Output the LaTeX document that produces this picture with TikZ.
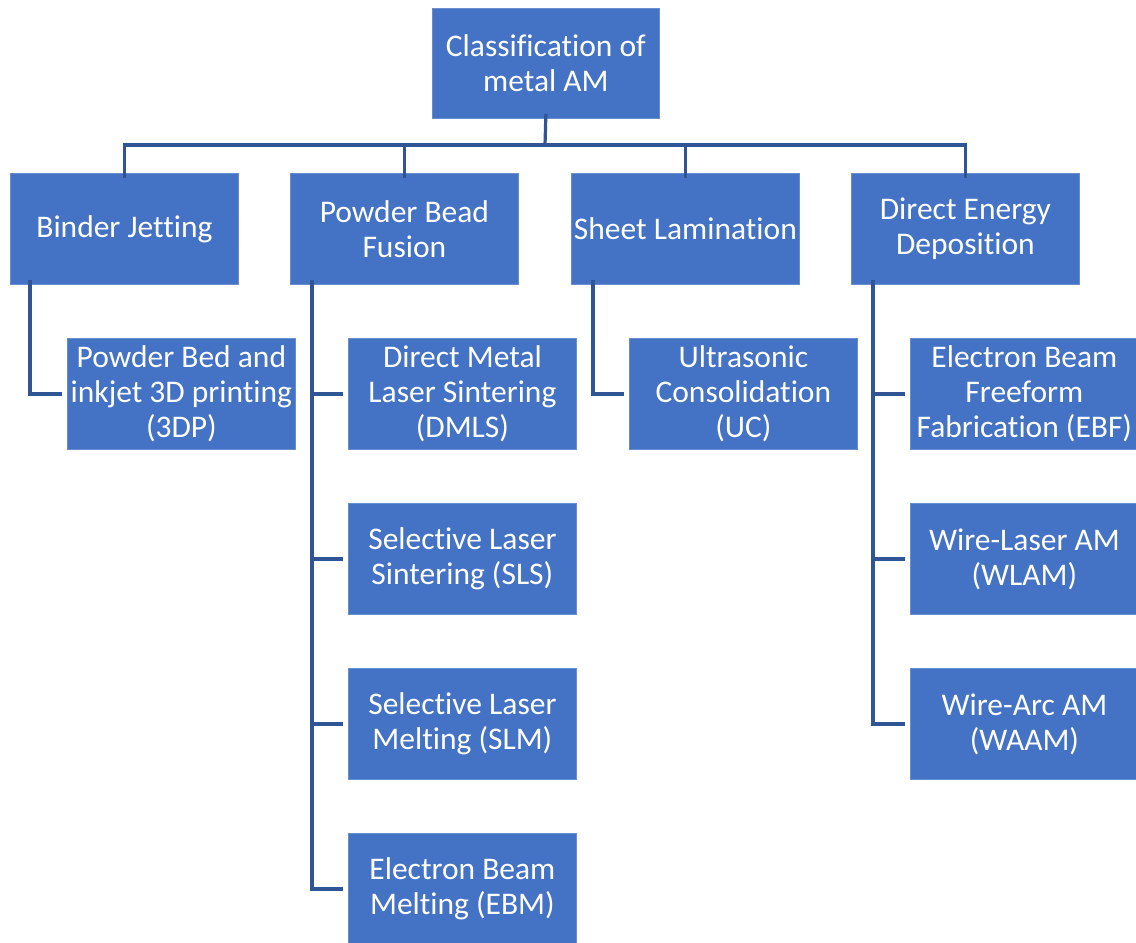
\documentclass[tikz,border=0pt]{standalone}
\usepackage{fontspec}
\setmainfont{Carlito}[Ligatures=NoCommon]
\definecolor{boxblue}{HTML}{4472C4}
\definecolor{lineblue}{HTML}{2F5597}
\begin{document}
\begin{tikzpicture}[x=1pt,y=-1pt,
  box/.style={draw=boxblue!80!white, line width=0.8pt, fill=boxblue, text=white, minimum width=228pt, minimum height=111pt, inner sep=0pt, align=center, anchor=north west, font=\fontsize{31.5}{35}\selectfont},
  conn/.style={draw=lineblue, line width=3.2pt}]
\useasboundingbox[fill=white] (0,0) rectangle (1136,943);
% root
\node[box, minimum width=227pt, minimum height=110pt] (root) at (432,8) {Classification of\\metal AM};
% level 1
\node[box] (bj)  at (10,173)  {Binder Jetting};
\node[box] (pbf) at (290,173) {Powder Bead\\Fusion};
\node[box] (sl)  at (571,173) {Sheet Lamination};
\node[box] (ded) at (851,173) {Direct Energy\\Deposition};
% level 2
\node[box] (tdp)  at (67,338)  {Powder Bed and\\inkjet 3D printing\\(3DP)};
\node[box] (dmls) at (348,338) {Direct Metal\\Laser Sintering\\(DMLS)};
\node[box] (sls)  at (348,503) {Selective Laser\\Sintering (SLS)};
\node[box] (slm)  at (348,668) {Selective Laser\\Melting (SLM)};
\node[box] (ebm)  at (348,833) {Electron Beam\\Melting (EBM)};
\node[box] (uc)   at (629,338) {Ultrasonic\\Consolidation\\(UC)};
\node[box] (ebf)  at (910,338) {Electron Beam\\Freeform\\Fabrication (EBF)};
\node[box] (wlam) at (910,503) {Wire-Laser AM\\(WLAM)};
\node[box] (waam) at (910,668) {Wire-Arc AM\\(WAAM)};
% bus
\coordinate (bus) at (545,145);
\draw[conn] ([yshift=5pt]root.south) -- (bus);
\foreach \c in {bj,pbf,sl,ded}
  \draw[conn] ([yshift=-5pt]\c.north) |- (bus);
% children connectors
\draw[conn] ([xshift=20pt,yshift=5pt]bj.south west) |- ([xshift=-5pt]tdp.west);
\foreach \c in {dmls,sls,slm,ebm}
  \draw[conn] ([xshift=22pt,yshift=5pt]pbf.south west) |- ([xshift=-5pt]\c.west);
\draw[conn] ([xshift=22pt,yshift=5pt]sl.south west) |- ([xshift=-5pt]uc.west);
\foreach \c in {ebf,wlam,waam}
  \draw[conn] ([xshift=22pt,yshift=5pt]ded.south west) |- ([xshift=-5pt]\c.west);
\end{tikzpicture}
\end{document}
